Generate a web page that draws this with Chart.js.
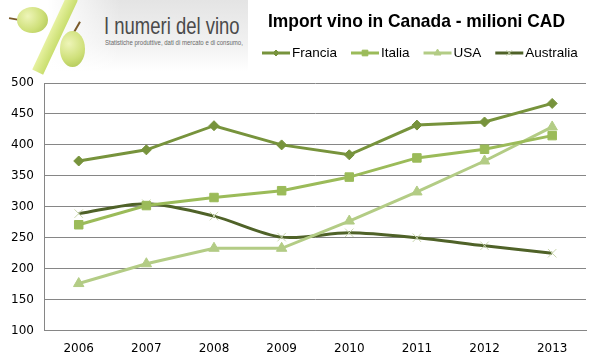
<!DOCTYPE html>
<html>
<head>
<meta charset="utf-8">
<script src="https://cdn.jsdelivr.net/npm/chart.js@4/dist/chart.umd.min.js"></script>
<style>
  html, body { margin: 0; padding: 0; background: #fff; }
  #wrap { position: relative; width: 600px; height: 363px; overflow: hidden; }
  #chart { position: absolute; left: 0; top: 0; }
  .logo { position: absolute; left: 0; top: 0; width: 248px; height: 72px;
          background: linear-gradient(to bottom, #e4e4e4 0%, #f1f1f1 60%, #ffffff 100%); }
  .logo .fade { position: absolute; left: 0; top: 0; width: 120px; height: 72px;
          background: linear-gradient(to right, #ffffff 40%, rgba(255,255,255,0) 100%); }
  .grape { position: absolute; border-radius: 50%;
          background: radial-gradient(circle at 35% 35%, #eef5b8 0%, #cfe07a 55%, #aac24e 100%); }
  .bar { position: absolute; left: 49px; top: -6px; width: 12px; height: 82px;
          background: linear-gradient(to right, #e6f1a0, #c9de6e); transform: rotate(25deg); }
  .stem { position: absolute; background: #7a5a2a; }
  .brand { position: absolute; left: 104px; top: 12px; font-family: "Liberation Sans", Arial, sans-serif;
          font-size: 24px; color: #4a4a4a; white-space: nowrap;
          transform: scaleX(0.77); transform-origin: left top; }
  .tag { position: absolute; left: 105px; top: 39px; font-family: "Liberation Sans", Arial, sans-serif;
          font-size: 7px; color: #6a6a6a; white-space: nowrap;
          transform: scaleX(0.86); transform-origin: left top; }
</style>
</head>
<body>
<div id="wrap">
  <div class="logo">
    <div class="fade"></div>
    <div class="stem" style="left:9px;top:18px;width:10px;height:2px;transform:rotate(10deg);"></div>
    <div class="grape" style="left:17px;top:7px;width:31px;height:26px;"></div>
    <div class="bar"></div>
    <div class="stem" style="left:76px;top:21px;width:2px;height:12px;transform:rotate(30deg);"></div>
    <div class="grape" style="left:60px;top:31px;width:25px;height:36px;"></div>
    <div class="brand">I numeri del vino</div>
    <div class="tag">Statistiche produttive, dati di mercato e di consumo,</div>
  </div>
  <canvas id="chart" width="600" height="367"></canvas>
</div>
<script>
var titleText = "Import vino in Canada - milioni CAD";
var years = ["2006", "2007", "2008", "2009", "2010", "2011", "2012", "2013"];
var francia = [374, 392, 431, 400, 384, 432, 437, 467];
var italia = [271, 302, 315, 326, 348, 379, 393, 415];
var usa = [176, 208, 233, 233, 277, 324, 374, 429];
var australia = [289, 305, 285, 251, 258, 250, 237, 225];

var ctx = document.getElementById("chart").getContext("2d");

var seriesList = [
   { label: "Francia", data: francia, color: "#77933C", marker: "rectRot", radius: 5, markerColor: "#77933C", tension: 0 },
   { label: "Italia", data: italia, color: "#9BBB59", marker: "rect", radius: 6, markerColor: "#9BBB59", tension: 0 },
   { label: "USA", data: usa, color: "#B3CC85", marker: "triangle", radius: 6, markerColor: "#B3CC85", tension: 0 },
   { label: "Australia", data: australia, color: "#4F6228", marker: "crossRot", radius: 6, markerColor: "#C9D6AE", tension: 0.3 },
];

var datasets = [];
for (let i = 0; i < seriesList.length; i++) {
   var s = seriesList[i];
   datasets.push({
      label: s.label,
      data: s.data,
      borderColor: s.color,
      backgroundColor: s.markerColor,
      borderWidth: 3,
      pointStyle: s.marker,
      pointRadius: s.radius,
      pointBorderColor: s.markerColor,
      pointBackgroundColor: s.markerColor,
      pointBorderWidth: 1,
      tension: s.tension,
      fill: false,
   });
}

// title + legend, drawn right of the logo
var headerPlugin = {
   id: "header",
   afterDraw: function (chart) {
      var c = chart.ctx;
      c.save();
      c.fillStyle = "#000";
      c.font = "bold 19px 'Liberation Sans', Arial, sans-serif";
      c.textBaseline = "middle";
      c.textAlign = "left";
      var tw = c.measureText(titleText).width;
      var sx = 297 / tw;
      c.save();
      c.translate(268, 22);
      c.scale(sx, 1);
      c.fillText(titleText, 0, 0);
      c.restore();

      c.font = "13.5px 'Liberation Sans', Arial, sans-serif";
      var x = 262;
      var y = 53;
      for (let i = 0; i < seriesList.length; i++) {
         var s = seriesList[i];
         c.strokeStyle = s.color;
         c.lineWidth = 3;
         c.beginPath();
         c.moveTo(x, y);
         c.lineTo(x + 28, y);
         c.stroke();
         c.fillStyle = s.markerColor;
         c.strokeStyle = s.markerColor;
         c.lineWidth = 1;
         Chart.helpers.drawPoint(c, {
            pointStyle: s.marker,
            radius: s.radius - 2,
            borderWidth: 1,
            rotation: 0,
         }, x + 14, y);
         c.fillStyle = "#000";
         c.fillText(s.label, x + 30, y);
         x = x + 30 + c.measureText(s.label).width + 14;
      }
      c.restore();
   },
};

var chart = new Chart(ctx, {
   type: "line",
   data: {
      labels: years,
      datasets: datasets,
   },
   options: {
      responsive: false,
      animation: false,
      layout: {
         padding: { left: 0, right: 14, top: 83, bottom: 0 },
      },
      plugins: {
         legend: { display: false },
         title: { display: false },
         tooltip: { enabled: false },
      },
      scales: {
         x: {
            offset: true,
            grid: { display: false, drawTicks: false },
            border: { display: true, color: "#868686", width: 1 },
            ticks: {
               color: "#000",
               font: { family: "'DejaVu Sans', Verdana, sans-serif", size: 12 },
               padding: 11,
            },
         },
         y: {
            min: 100,
            max: 500,
            grid: { color: "#868686", drawTicks: false },
            border: { display: true, color: "#868686", width: 1 },
            ticks: {
               stepSize: 50,
               color: "#000",
               font: { family: "'DejaVu Sans', Verdana, sans-serif", size: 12 },
               padding: 11,
            },
         },
      },
   },
   plugins: [headerPlugin],
});
</script>
</body>
</html>
